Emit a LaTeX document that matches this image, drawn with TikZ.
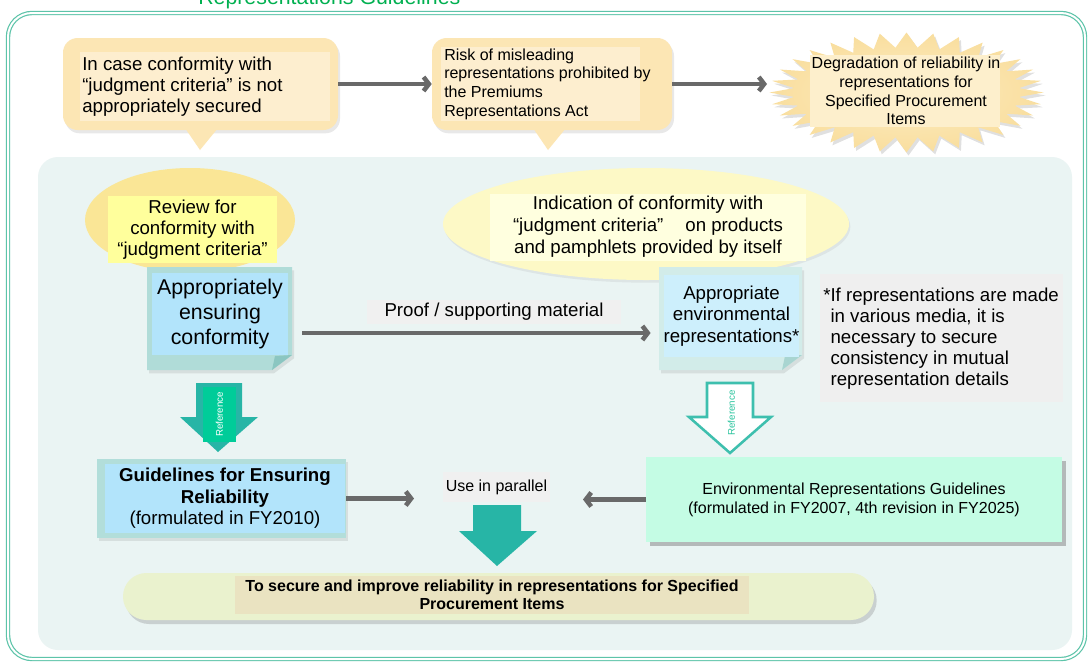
\documentclass[tikz,border=0pt]{standalone}
\usepackage{fontspec}
\setmainfont{Liberation Sans}
\usetikzlibrary{shapes.geometric,shadows,arrows.meta,calc}
\newcommand\pxl[1]{#1*0.75pt}
\newcommand\fs[2]{\fontsize{#1}{#2}\selectfont}
\definecolor{framec}{HTML}{5DC4A9}
\definecolor{titlegreen}{HTML}{00B050}
\definecolor{callfill}{HTML}{FCE6B4}
\definecolor{callinner}{HTML}{FDEECF}
\definecolor{arrowgray}{HTML}{696969}
\definecolor{burstin}{HTML}{FDEDC4}
\definecolor{burstout}{HTML}{F9DE9E}
\definecolor{burstrect}{HTML}{FDEFCC}
\definecolor{panelc}{HTML}{EAF4F3}
\definecolor{yellA}{HTML}{FAE696}
\definecolor{yellAin}{HTML}{FFFF9C}
\definecolor{yellB}{HTML}{FDF9C6}
\definecolor{yellBin}{HTML}{FFFFDF}
\definecolor{noteouterA}{HTML}{B0DCD8}
\definecolor{notefoldA}{HTML}{8BC6C1}
\definecolor{noteblueA}{HTML}{B2E4FB}
\definecolor{noteouterB}{HTML}{D2ECE9}
\definecolor{notefoldB}{HTML}{A8D5D1}
\definecolor{noteblueB}{HTML}{CDEFFC}
\definecolor{notegray}{HTML}{EFEFEF}
\definecolor{labelgray}{HTML}{F0F0F0}
\definecolor{refteal}{HTML}{27B5A6}
\definecolor{refgreen}{HTML}{00CC99}
\definecolor{refoutline}{HTML}{3EBFAE}
\definecolor{reftext}{HTML}{2BC49E}
\definecolor{guideouter}{HTML}{B2DEDA}
\definecolor{guideblue}{HTML}{B2E4FB}
\definecolor{envfill}{HTML}{C4FCE4}
\definecolor{pillc}{HTML}{EAF2CE}
\definecolor{pillin}{HTML}{EAE3C1}
\begin{document}
\begin{tikzpicture}[x=0.75pt,y=-0.75pt,
  box/.style={inner sep=0, align=center},
  softshadow/.style={drop shadow={opacity=0.18, shadow xshift=1.5pt, shadow yshift=-2.5pt}},
  grayarrow/.style={draw=arrowgray, line width=3.4pt, -{Straight Barb[length=4pt,width=10.5pt,line width=3.4pt]}},
  calloutbox/.style={rectangle, rounded corners=11pt, fill=callfill, softshadow, inner sep=0},
  refarrow/.style={fill=refteal},
]
\clip (0,0) rectangle (1089,662);
\fill[white] (0,0) rectangle (1089,662);

% outer frame and title
\node[draw=framec, line width=0.9pt, double=white, double distance=1.5pt, rounded corners=18pt,
      minimum width=\pxl{1077}, minimum height=\pxl{646}, inner sep=0] (frame) at (546.5,336) {};
\node[anchor=base west, inner sep=0, text=titlegreen, font=\fs{16}{19}] (title) at (198,4) {Representations Guidelines};

% callout 1
\node[calloutbox, minimum width=\pxl{275}, minimum height=\pxl{92}] (c1) at (200.5,84) {};
\fill[callfill] (185,128) -- (218,128) -- (200,150) -- cycle;
\fill[callinner] (80,52) rectangle (330,121);
\node[anchor=west, inner sep=0, align=left, font=\fs{14}{15.75}] (c1t) at (82,87)
  {In case conformity with\\“judgment criteria” is not\\appropriately secured};

% callout 2
\node[calloutbox, minimum width=\pxl{240}, minimum height=\pxl{92}] (c2) at (552,84) {};
\fill[callfill] (533,128) -- (566,128) -- (548,150) -- cycle;
\fill[callinner] (441,47) rectangle (640,121);
\node[anchor=west, inner sep=0, align=left, font=\fs{12}{14}] (c2t) at (444,84)
  {Risk of misleading\\representations prohibited by\\the Premiums\\Representations Act};

% starburst
\coordinate (burstc) at (906.5,92.5);
\begin{scope}[shift={(burstc)}]
\fill[black, opacity=0.12] [shift={(2,3)}]
  plot[samples=65, domain=0:64, variable=\t]
  ({ifthenelse(mod(round(\t),2)==0,137,113)*cos(5.625*\t)}, {ifthenelse(mod(round(\t),2)==0,60,45)*sin(5.625*\t)}) -- cycle;
\shade[inner color=burstin, outer color=burstout]
  plot[samples=65, domain=0:64, variable=\t]
  ({ifthenelse(mod(round(\t),2)==0,137,113)*cos(5.625*\t)}, {ifthenelse(mod(round(\t),2)==0,60,45)*sin(5.625*\t)}) -- cycle;
\end{scope}
\fill[burstrect] (810,55) rectangle (1000,127);
\node[box, font=\fs{12}{14}] (burst) at (906,91)
  {Degradation of reliability in\\representations for\\Specified Procurement\\Items};
\coordinate (burstw) at (767,84);

\draw[grayarrow] (c1.east) -- (c2.west);
\draw[grayarrow] (c2.east) -- (burstw);

% panel
\node[fill=panelc, rounded corners=15pt, minimum width=\pxl{1034}, minimum height=\pxl{493}, inner sep=0] (panel) at (555,403.5) {};

% left ellipse and note
\node[ellipse, fill=yellA, minimum width=\pxl{210}, minimum height=\pxl{104}, inner sep=0] (e1) at (190,220) {};
\node[box, fill=yellAin, minimum width=\pxl{169}, minimum height=\pxl{67}, font=\fs{14}{15.75}] (e1t) at (192.5,229.5)
  {Review for\\conformity with\\“judgment criteria”};
\fill[noteouterA, softshadow] (147,267) -- (292,267) -- (292,355) -- (272,370) -- (147,370) -- cycle;
\fill[notefoldA] (272,370) -- (275,356) -- (292,355) -- cycle;
\node[box, fill=noteblueA, minimum width=\pxl{136}, minimum height=\pxl{82}, font=\fs{16}{18.4}] (n1) at (220,314)
  {Appropriately\\ensuring\\conformity};

% right ellipse and note
\node[ellipse, fill=yellB, minimum width=\pxl{406}, minimum height=\pxl{112}, inner sep=0,
      drop shadow={opacity=0.12, shadow xshift=1pt, shadow yshift=-2pt}] (e2) at (646,224) {};
\node[box, fill=yellBin, minimum width=\pxl{316}, minimum height=\pxl{67}, font=\fs{14}{16.5}] (e2t) at (648,227)
  {Indication of conformity with\\“judgment criteria”\hspace{0.9em} on products\\and pamphlets provided by itself};
\fill[noteouterB, softshadow] (659,267) -- (802,267) -- (802,355) -- (782,370) -- (659,370) -- cycle;
\fill[notefoldB] (782,370) -- (785,356) -- (802,355) -- cycle;
\node[box, fill=noteblueB, minimum width=\pxl{133}, minimum height=\pxl{82}, font=\fs{14}{16}] (n2) at (731.5,316)
  {Appropriate\\environmental\\representations*};

% proof arrow
\coordinate (proofy) at (0,333);
\node[box, fill=labelgray, minimum width=\pxl{254}, minimum height=\pxl{24}, font=\fs{14}{16}] (plabel) at (494,312)
  {Proof / supporting material};
\draw[grayarrow, shorten <=10.5pt, shorten >=9.5pt] (n1.east |- proofy) -- (n2.west |- proofy);

% footnote
\node[fill=notegray, minimum width=\pxl{243}, minimum height=\pxl{128}, inner sep=0] (fnbg) at (941.5,338) {};
\node[anchor=west, inner sep=0, align=left, font=\fs{14}{15.75}] (fn) at (823,338.5)
  {*If representations are made\\\phantom{*}in various media, it is\\\phantom{*}necessary to secure\\\phantom{*}consistency in mutual\\\phantom{*}representation details};

% reference arrows
\fill[refarrow] (196,383) -- (242,383) -- (242,417) -- (258,417) -- (218,452) -- (180,417) -- (196,417) -- cycle;
\node[box, rotate=90, fill=refgreen, text=white, minimum width=\pxl{55}, minimum height=\pxl{33}, font=\fs{7.3}{8}] (r1l) at (219.5,414.5) {Reference};
\filldraw[fill=white, draw=refoutline, line width=1.9pt, line join=miter] (707,383) -- (753,383) -- (753,417) -- (771,417) -- (730,453) -- (689,417) -- (707,417) -- cycle;
\node[box, rotate=90, text=reftext, font=\fs{7.3}{8}] (r2l) at (731.5,413) {Reference};

% guidelines boxes
\node[fill=guideouter, minimum width=\pxl{249}, minimum height=\pxl{79}, inner sep=0, softshadow] (g1o) at (221.5,498.5) {};
\node[box, fill=guideblue, minimum width=\pxl{240}, minimum height=\pxl{69}, font=\fs{14}{16.1}] (g1) at (225,498.5)
  {\textbf{Guidelines for Ensuring}\\\textbf{Reliability}\\(formulated in FY2010)};
\node[box, fill=envfill, minimum width=\pxl{416}, minimum height=\pxl{85}, font=\fs{12}{14.25},
      drop shadow={opacity=0.5, shadow xshift=3pt, shadow yshift=-3pt}] (env) at (854,499.5)
  {Environmental Representations Guidelines\\(formulated in FY2007, 4th revision in FY2025)};

\node[box, fill=labelgray, minimum width=\pxl{107}, minimum height=\pxl{30}, font=\fs{12}{14}] (use) at (496.5,487) {Use in parallel};
\coordinate (parL) at (414,498.5);
\coordinate (parR) at (583,499.5);
\draw[grayarrow] (g1o.east) -- (parL);
\draw[grayarrow] (env.west) -- (parR);

\fill[refarrow] (473,505) -- (521,505) -- (521,531) -- (537,531) -- (497,566) -- (459,531) -- (473,531) -- cycle;

% goal pill
\node[fill=pillc, rounded corners=17.5pt, minimum width=\pxl{751}, minimum height=\pxl{47}, inner sep=0,
      drop shadow={opacity=0.3, shadow xshift=2pt, shadow yshift=-3pt}] (pill) at (498.5,596.5) {};
\node[box, fill=pillin, minimum width=\pxl{514}, minimum height=\pxl{38}, font=\bfseries\fs{12}{13.5}] (goal) at (492,595)
  {To secure and improve reliability in representations for Specified\\Procurement Items};
\end{tikzpicture}
\end{document}
